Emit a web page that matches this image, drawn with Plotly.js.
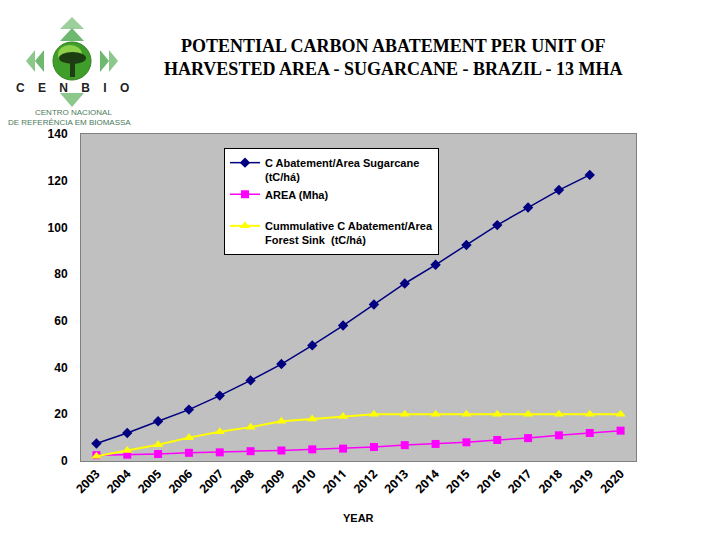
<!DOCTYPE html>
<html>
<head>
<meta charset="utf-8">
<script src="https://cdn.plot.ly/plotly-3.0.1.min.js"></script>
<style>html,body{margin:0;padding:0;background:#fff;}#chart{width:720px;height:540px;}</style>
</head>
<body>
<div id="chart"></div>
<script>
// ---- data ----
var years = ["2003","2004","2005","2006","2007","2008","2009","2010","2011","2012","2013","2014","2015","2016","2017","2018","2019","2020"];
var sugarcane = [7.5, 12, 17, 22, 28, 34.5, 41.5, 49.5, 58, 67, 76, 84, 92.5, 101, 108.5, 116, 122.5, null];
var area = [2.5, 2.7, 3, 3.5, 3.7, 4.2, 4.5, 5, 5.3, 6, 6.8, 7.3, 8, 9, 9.8, 11, 12, 13];
var forestSink = [2, 4.5, 7, 10, 12.5, 14.5, 17, 18, 19, 20, 20, 20, 20, 20, 20, 20, 20, 20];
var yTicks = [0, 20, 40, 60, 80, 100, 120, 140];

var seriesNames = [
  "C Abatement/Area Sugarcane<br>(tC/há)",
  "AREA (Mha)<br> ",
  "Cummulative C Abatement/Area<br>Forest Sink  (tC/há)"
];

// ---- layout helpers (pixel -> paper) ----
var L = 81, R = 636, T = 134, B = 461;
function px(x){ return (x - L) / (R - L); }
function py(y){ return (B - y) / (B - T); }

var traces = [
  {x: years, y: sugarcane, name: seriesNames[0], mode: "lines+markers",
   line: {color: "#000080", width: 1.5}, marker: {symbol: "diamond", size: 8, color: "#000080"}},
  {x: years, y: area, name: seriesNames[1], mode: "lines+markers",
   line: {color: "#FF00FF", width: 1.5}, marker: {symbol: "square", size: 8, color: "#FF00FF"}},
  {x: years, y: forestSink, name: seriesNames[2], mode: "lines+markers",
   line: {color: "#FFFF00", width: 2}, marker: {symbol: "triangle-up", size: 9, color: "#FFFF00"}}
];

// logo shapes
var shapes = [];
function tri(x1,y1,x2,y2,x3,y3,color){
  shapes.push({type:"path", xref:"paper", yref:"paper", layer:"above",
    path:"M "+px(x1)+" "+py(y1)+" L "+px(x2)+" "+py(y2)+" L "+px(x3)+" "+py(y3)+" Z",
    fillcolor: color, line:{width:0}});
}
tri(72,17, 60,29, 84,29, "#9ccf9c");
tri(72,28, 60,41, 84,41, "#6fb86f");
tri(60,93, 84,93, 72,107, "#8cc78c");
tri(26,61, 35,50, 35,72, "#8cc78c");
tri(35,61, 44,50, 44,72, "#6fb86f");
tri(118,61, 109,50, 109,72, "#8cc78c");
tri(109,61, 100,50, 100,72, "#6fb86f");
shapes.push({type:"circle", xref:"paper", yref:"paper", layer:"above",
  x0:px(53), x1:px(91), y0:py(80), y1:py(42), fillcolor:"#3f9e2a", line:{color:"#2f7f1f", width:1}});
shapes.push({type:"circle", xref:"paper", yref:"paper", layer:"above",
  x0:px(58), x1:px(82), y0:py(64), y1:py(45), fillcolor:"#8fd04a", line:{width:0}});
shapes.push({type:"circle", xref:"paper", yref:"paper", layer:"above",
  x0:px(59), x1:px(86), y0:py(64), y1:py(52), fillcolor:"#1d3d12", line:{width:0}});
shapes.push({type:"rect", xref:"paper", yref:"paper", layer:"above",
  x0:px(70), x1:px(75), y0:py(77), y1:py(60), fillcolor:"#1d3d12", line:{width:0}});

var annotations = [
  {text: "POTENTIAL CARBON ABATEMENT PER UNIT OF<br>HARVESTED AREA - SUGARCANE - BRAZIL - 13 MHA",
   xref:"paper", yref:"paper", x: px(393), y: py(57), xanchor:"center", yanchor:"middle",
   showarrow:false, align:"center",
   font:{family:"Liberation Serif, Times New Roman, serif", size:18, weight:"bold", color:"#000"}},
  {text: "YEAR", xref:"paper", yref:"paper", x: px(358), y: py(518), xanchor:"center", yanchor:"middle",
   showarrow:false, font:{family:"Liberation Sans, Arial, sans-serif", size:11, weight:"bold", color:"#000"}},
  {text: "C    E    N    B    I    O", xref:"paper", yref:"paper", x: px(72), y: py(88), xanchor:"center", yanchor:"middle",
   showarrow:false, font:{family:"Liberation Sans, Arial, sans-serif", size:12, weight:"bold", color:"#222"}},
  {text: "CENTRO NACIONAL", xref:"paper", yref:"paper", x: px(73), y: py(113), xanchor:"center", yanchor:"middle",
   showarrow:false, font:{family:"Liberation Sans, Arial, sans-serif", size:8, color:"#4a7a5a"}},
  {text: "DE REFERÊNCIA EM BIOMASSA", xref:"paper", yref:"paper", x: px(69), y: py(122), xanchor:"center", yanchor:"middle",
   showarrow:false, font:{family:"Liberation Sans, Arial, sans-serif", size:8, color:"#4a7a5a"}}
];

var layout = {
  width: 720, height: 540,
  margin: {l: L, r: 720 - R, t: T, b: 540 - B, pad: 0},
  paper_bgcolor: "#ffffff",
  plot_bgcolor: "#C0C0C0",
  font: {family: "Liberation Sans, Arial, sans-serif", color: "#000"},
  showlegend: true,
  legend: {
    x: px(224), y: py(148), xanchor: "left", yanchor: "top",
    bgcolor: "#ffffff", bordercolor: "#000000", borderwidth: 1,
    font: {family: "Liberation Sans, Arial, sans-serif", size: 11, weight: "bold", color: "#000"},
    valign: "top", tracegroupgap: 0, itemwidth: 30
  },
  xaxis: {
    type: "category",
    range: [-0.5, 17.5], autorange: false,
    tickangle: -45, showgrid: false, zeroline: false,
    showline: true, linecolor: "#808080", linewidth: 1, mirror: true,
    tickfont: {family: "Open Sans", size: 12, weight: "bold", color: "#000"}
  },
  yaxis: {
    range: [0, 140], autorange: false, tickvals: yTicks, ticktext: yTicks.map(String),
    showgrid: false, zeroline: false,
    showline: true, linecolor: "#808080", linewidth: 1, mirror: true,
    ticks: "", ticklabelstandoff: 10,
    tickfont: {family: "Liberation Sans, Arial, sans-serif", size: 12, weight: "bold", color: "#000"}
  },
  shapes: shapes,
  annotations: annotations
};

Plotly.newPlot("chart", traces, layout, {displayModeBar: false});
</script>
</body>
</html>
